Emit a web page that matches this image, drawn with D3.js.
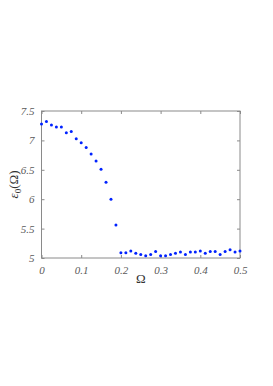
<!DOCTYPE html>
<html>
<head>
<meta charset="utf-8">
<script src="https://cdn.jsdelivr.net/npm/d3@7"></script>
<style>
  body { margin: 0; background: #fff; }
</style>
</head>
<body>
<div id="chart"></div>
<script>
// data
const omega = d3.range(41).map(i => i * 0.0125);
const energy = [
  7.28, 7.32, 7.26, 7.23, 7.23, 7.13, 7.15, 7.03, 6.96, 6.88,
  6.77, 6.65, 6.51, 6.29, 6.00, 5.56, 5.09, 5.09, 5.12, 5.08,
  5.06, 5.04, 5.06, 5.11, 5.04, 5.04, 5.06, 5.08, 5.10, 5.06,
  5.10, 5.10, 5.12, 5.08, 5.11, 5.11, 5.06, 5.11, 5.14, 5.10,
  5.12
];
const xTicks = [0, 0.1, 0.2, 0.3, 0.4, 0.5];
const yTicks = [5, 5.5, 6, 6.5, 7, 7.5];

const W = 273, H = 386;
let margin = {top: 111, right: 33, bottom: 128, left: 41.5},
    width = W - margin.left - margin.right,
    height = H - margin.top - margin.bottom;

const svg = d3.select("#chart")
  .append("svg")
  .attr("width", W)
  .attr("height", H)
  .append("g")
  .attr("transform", `translate(${margin.left},${margin.top})`);

const x = d3.scaleLinear().domain([0, 0.5]).range([0, width]);
const y = d3.scaleLinear().domain([5, 7.5]).range([height, 0]);

const axisColor = "#8a8a8a";
const labelColor = "#5a5a5a";
const serif = "'Liberation Serif', 'DejaVu Serif', serif";

function style(g) {
  g.attr("font-family", null).attr("font-size", null);
  g.select(".domain").remove();
  g.selectAll(".tick line").attr("stroke", axisColor);
  g.selectAll(".tick text")
    .attr("fill", labelColor)
    .style("font-family", serif)
    .style("font-style", "italic")
    .style("font-size", "11px");
}

// bottom axis
svg.append("g")
  .attr("transform", `translate(0,${height})`)
  .call(d3.axisBottom(x).tickValues(xTicks).tickSizeInner(-3).tickSizeOuter(0).tickPadding(8).tickFormat(d3.format("")))
  .call(style);

// left axis
svg.append("g")
  .call(d3.axisLeft(y).tickValues(yTicks).tickSizeInner(-3).tickSizeOuter(0).tickPadding(7).tickFormat(d3.format("")))
  .call(style);

// top and right ticks (no labels)
svg.append("g")
  .call(d3.axisTop(x).tickValues(xTicks).tickSizeInner(-3).tickSizeOuter(0).tickFormat(""))
  .call(style);
svg.append("g")
  .attr("transform", `translate(${width},0)`)
  .call(d3.axisRight(y).tickValues(yTicks).tickSizeInner(-3).tickSizeOuter(0).tickFormat(""))
  .call(style);

// box
svg.append("rect")
  .attr("x", 0).attr("y", 0)
  .attr("width", width).attr("height", height)
  .attr("fill", "none")
  .attr("stroke", axisColor)
  .attr("stroke-width", 1);

// points
svg.selectAll("circle")
  .data(omega)
  .join("circle")
  .attr("cx", d => x(d))
  .attr("cy", (d, i) => y(energy[i]))
  .attr("r", 1.5)
  .attr("fill", "#0022ff");

// x label
svg.append("text")
  .attr("x", width / 2)
  .attr("y", height + 25)
  .attr("text-anchor", "middle")
  .attr("fill", "#333")
  .style("font-family", serif)
  .style("font-size", "13px")
  .text("Ω");

// y label
const yl = svg.append("text")
  .attr("transform", `translate(-24,${height / 2}) rotate(-90)`)
  .attr("text-anchor", "middle")
  .attr("fill", "#333")
  .style("font-family", serif)
  .style("font-size", "13px");
yl.append("tspan").style("font-style", "italic").text("ε");
yl.append("tspan").attr("dy", 3).style("font-size", "9px").text("0");
yl.append("tspan").attr("dy", -3).text("(Ω)");
</script>
</body>
</html>
